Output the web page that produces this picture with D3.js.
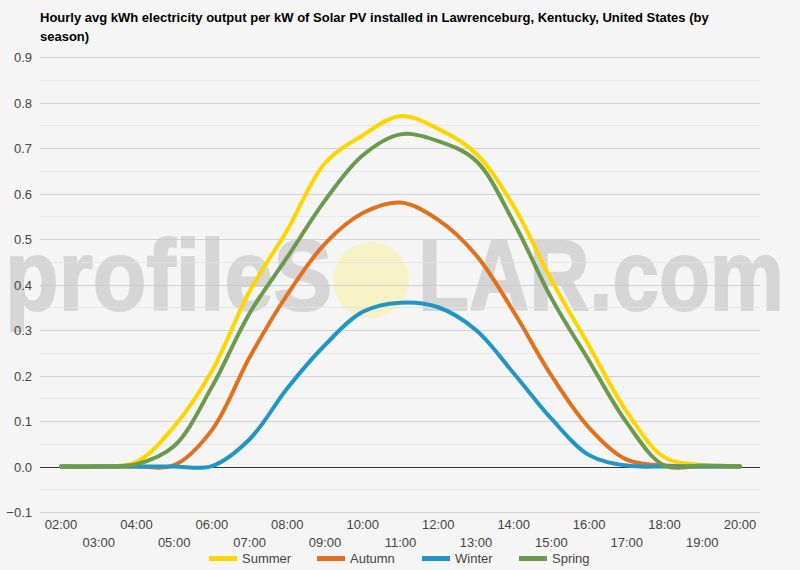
<!DOCTYPE html>
<html>
<head>
<meta charset="utf-8">
<script src="https://cdn.jsdelivr.net/npm/d3@7"></script>
<style>
body{margin:0;background:#f5f5f5;}
text{font-family:"Liberation Sans",Arial,sans-serif;}
</style>
</head>
<body>
<script>
var hours = [2,3,4,5,6,7,8,9,10,11,12,13,14,15,16,17,18,19,20];
var hourLabels = ["02:00","03:00","04:00","05:00","06:00","07:00","08:00","09:00","10:00","11:00","12:00","13:00","14:00","15:00","16:00","17:00","18:00","19:00","20:00"];
var seasons = ["Summer","Autumn","Winter","Spring"];
var summer = [0,0,0.01,0.088,0.21,0.385,0.52,0.667,0.728,0.77,0.742,0.688,0.572,0.41,0.265,0.12,0.02,0.003,0];
var autumn = [0,0,0,0.003,0.08,0.24,0.378,0.49,0.557,0.58,0.542,0.465,0.34,0.2,0.085,0.015,0.002,0,0];
var winter = [0,0,0,0,0.001,0.06,0.172,0.267,0.34,0.36,0.35,0.3,0.205,0.105,0.025,0.002,0,0,0];
var spring = [0,0,0.005,0.045,0.175,0.337,0.46,0.585,0.684,0.73,0.715,0.672,0.537,0.37,0.232,0.096,0.002,0.002,0];
var yTicks = [-0.1,0,0.1,0.2,0.3,0.4,0.5,0.6,0.7,0.8,0.9];
var colors = ["#FFD500","#E2711D","#2196C4","#6B9A4D"];
var series = [summer, autumn, winter, spring];

var w = 800, h = 570;
var svg = d3.select("body").append("svg")
	.attr("width", w)
	.attr("height", h)
	.style("background-color", "#f5f5f5");

var x = d3.scaleLinear().domain([2,20]).range([61,740]);
var y = d3.scaleLinear().domain([-0.1,0.9]).range([512,57]);

// watermark (under the grid)
var wm = svg.append("g");
wm.append("text")
	.attr("x",5).attr("y",310)
	.attr("font-size",100).attr("font-weight","bold")
	.attr("fill","#d6d6d6").attr("stroke","#d6d6d6").attr("stroke-width",2)
	.attr("textLength",327).attr("lengthAdjust","spacingAndGlyphs")
	.text("profileS");
wm.append("circle")
	.attr("cx",371).attr("cy",280).attr("r",38)
	.attr("fill","#f8f3c6");
wm.append("text")
	.attr("x",418).attr("y",310)
	.attr("font-size",100).attr("font-weight","bold")
	.attr("fill","#d6d6d6").attr("stroke","#d6d6d6").attr("stroke-width",2)
	.attr("textLength",366).attr("lengthAdjust","spacingAndGlyphs")
	.text("LAR.com");

// minor grid
svg.append("g").selectAll("line")
	.data(d3.range(-0.05, 0.9, 0.1))
	.enter().append("line")
	.attr("x1",40).attr("x2",760)
	.attr("y1",function(d){return Math.round(y(d))+0.5;})
	.attr("y2",function(d){return Math.round(y(d))+0.5;})
	.attr("stroke","#e2e2e2").attr("stroke-opacity",0.8);

// major grid
svg.append("g").selectAll("line")
	.data(yTicks)
	.enter().append("line")
	.attr("x1",40).attr("x2",760)
	.attr("y1",function(d){return Math.round(y(d))+0.5;})
	.attr("y2",function(d){return Math.round(y(d))+0.5;})
	.attr("stroke",function(d){return d==0 ? "#333" : "#c8c8c8";})
	.attr("stroke-opacity",function(d){return d==0 ? 1 : 0.8;});

// y labels
svg.append("g").selectAll("text")
	.data(yTicks)
	.enter().append("text")
	.attr("x",32)
	.attr("y",function(d){return y(d)+5;})
	.attr("text-anchor","end")
	.attr("font-size",13)
	.attr("fill","#444")
	.text(function(d){return d3.format(".1f")(d);});

// x labels, alternating rows
svg.append("g").selectAll("text")
	.data(hours)
	.enter().append("text")
	.attr("x",function(d){return x(d);})
	.attr("y",function(d,i){return i%2==0 ? 529 : 547;})
	.attr("text-anchor","middle")
	.attr("font-size",13)
	.attr("fill","#444")
	.text(function(d,i){return hourLabels[i];});

// lines
var line = d3.line()
	.x(function(d,i){return x(hours[i]);})
	.y(function(d){return y(d);})
	.curve(d3.curveCatmullRom.alpha(0.5));

svg.append("g").selectAll("path")
	.data(series)
	.enter().append("path")
	.attr("d",line)
	.attr("fill","none")
	.attr("stroke",function(d,i){return colors[i];})
	.attr("stroke-width",4)
	.attr("stroke-linejoin","round")
	.attr("stroke-linecap","round");

// title
svg.append("text")
	.attr("x",40).attr("y",22)
	.attr("font-size",13).attr("font-weight","bold").attr("fill","#000")
	.text("Hourly avg kWh electricity output per kW of Solar PV installed in Lawrenceburg, Kentucky, United States (by");
svg.append("text")
	.attr("x",40).attr("y",41)
	.attr("font-size",13).attr("font-weight","bold").attr("fill","#000")
	.text("season)");

// legend
var legX = [209,317,422,519];
var leg = svg.append("g").selectAll("g")
	.data(seasons)
	.enter().append("g");
leg.append("rect")
	.attr("x",function(d,i){return legX[i];})
	.attr("y",556).attr("width",28).attr("height",5)
	.attr("fill",function(d,i){return colors[i];});
leg.append("text")
	.attr("x",function(d,i){return legX[i]+33;})
	.attr("y",563)
	.attr("font-size",13)
	.attr("fill","#444")
	.text(function(d){return d;});
</script>
</body>
</html>
